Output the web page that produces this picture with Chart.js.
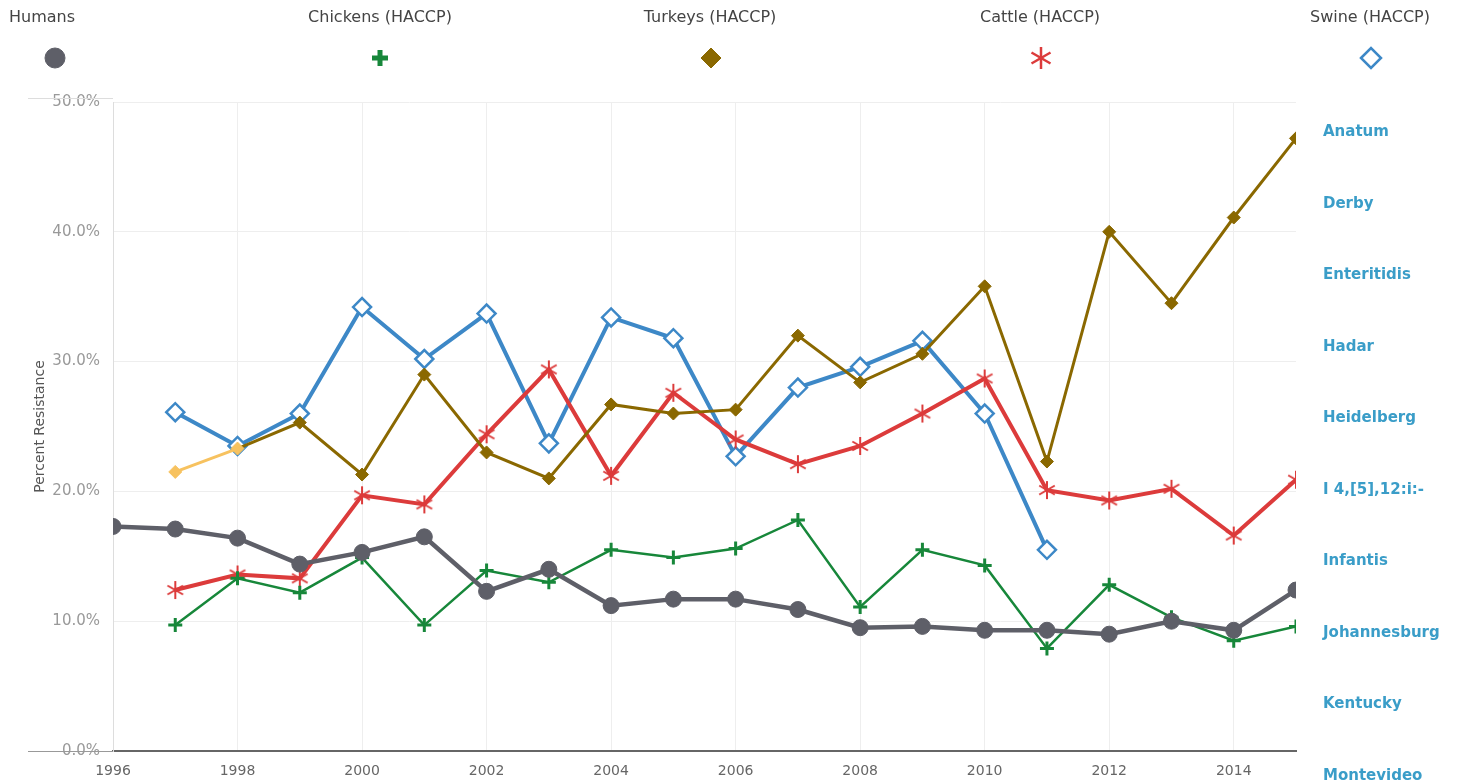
<!DOCTYPE html>
<html>
<head>
<meta charset="utf-8">
<script src="https://cdn.jsdelivr.net/npm/chart.js@4.4.1/dist/chart.umd.min.js"></script>
<style>
  html, body { margin: 0; padding: 0; background: #fff; overflow: hidden; }
  #wrap { position: relative; width: 1472px; height: 784px; }
  #serotypes { position: absolute; left: 1323px; top: 0; margin: 0; padding: 0; list-style: none;
               font: bold 15px "DejaVu Sans", sans-serif; color: #3a9dc8; }
  #serotypes li { position: absolute; left: 0; white-space: nowrap; line-height: 20px; }
</style>
</head>
<body>
<div id="wrap">
  <canvas id="chart" width="1472" height="784"></canvas>
  <ul id="serotypes"></ul>
</div>
<script>
// data
const years = [1996, 1997, 1998, 1999, 2000, 2001, 2002, 2003, 2004, 2005,
               2006, 2007, 2008, 2009, 2010, 2011, 2012, 2013, 2014, 2015];

const humans   = [17.3, 17.1, 16.4, 14.4, 15.3, 16.5, 12.3, 14.0, 11.2, 11.7,
                  11.7, 10.9, 9.5, 9.6, 9.3, 9.3, 9.0, 10.0, 9.3, 12.4];
const chickens = [null, 9.7, 13.3, 12.2, 14.9, 9.7, 13.9, 13.0, 15.5, 14.9,
                  15.6, 17.8, 11.1, 15.5, 14.3, 7.9, 12.8, 10.3, 8.5, 9.6];
const turkeys  = [null, 21.5, 23.3, 25.3, 21.3, 29.0, 23.0, 21.0, 26.7, 26.0,
                  26.3, 32.0, 28.4, 30.6, 35.8, 22.3, 40.0, 34.5, 41.1, 47.2];
const cattle   = [null, 12.4, 13.6, 13.3, 19.7, 19.0, 24.4, 29.4, 21.2, 27.6,
                  24.0, 22.1, 23.5, 26.0, 28.7, 20.1, 19.3, 20.2, 16.6, 20.9];
const swine    = [null, 26.1, 23.5, 26.0, 34.2, 30.2, 33.7, 23.7, 33.4, 31.8,
                  22.7, 28.0, 29.6, 31.6, 26.0, 15.5, null, null, null, null];

const seriesNames = ['Humans', 'Chickens (HACCP)', 'Turkeys (HACCP)', 'Cattle (HACCP)', 'Swine (HACCP)'];
const serotypes = ['Anatum', 'Derby', 'Enteritidis', 'Hadar', 'Heidelberg', 'I 4,[5],12:i:-',
                   'Infantis', 'Johannesburg', 'Kentucky', 'Montevideo'];
const yTicks = { min: 0, max: 50, step: 10 };

const C_HUM = '#5e5f68', C_CHK = '#17873a', C_TUR = '#8a6800', C_TUR_EARLY = '#f7c25f',
      C_CAT = '#dc3b3b', C_SWI = '#3d88c7';

// serotype list on the right
const list = document.getElementById('serotypes');
serotypes.forEach((s, i) => {
  const li = document.createElement('li');
  li.textContent = s;
  li.style.top = (121 + i * 71.5) + 'px';
  list.appendChild(li);
});

// six armed asterisk used for cattle
function asterisk(size, lw, color) {
  const c = document.createElement('canvas');
  c.width = c.height = size;
  const x = c.getContext('2d');
  x.strokeStyle = color;
  x.lineWidth = lw;
  const m = size / 2, r = size / 2 - 1;
  for (let k = 0; k < 3; k++) {
    const a = Math.PI / 2 + k * Math.PI / 3;
    x.beginPath();
    x.moveTo(m + r * Math.cos(a), m + r * Math.sin(a));
    x.lineTo(m - r * Math.cos(a), m - r * Math.sin(a));
    x.stroke();
  }
  return c;
}
const starSmall = asterisk(20, 2, C_CAT);
const starBig = asterisk(24, 2.5, C_CAT);

const pts = arr => years.map((x, i) => ({ x, y: arr[i] }));

const legendTextX = [42, 380, 710, 1040, 1370];
const legendMarkX = [55, 380, 711, 1041, 1371];
const legendMarks = [
  { pointStyle: 'circle', radius: 10, fill: C_HUM, stroke: C_HUM, bw: 1 },
  { pointStyle: 'cross', radius: 8, fill: C_CHK, stroke: C_CHK, bw: 5 },
  { pointStyle: 'rectRot', radius: 10, fill: C_TUR, stroke: C_TUR, bw: 1 },
  { pointStyle: starBig, radius: 12, fill: C_CAT, stroke: C_CAT, bw: 1 },
  { pointStyle: 'rectRot', radius: 10, fill: '#fff', stroke: C_SWI, bw: 2.5 }
];

const topLegend = {
  id: 'topLegend',
  afterDraw(chart) {
    const ctx = chart.ctx;
    const a = chart.chartArea;
    ctx.save();
    // axis line stubs left of the plot
    ctx.lineWidth = 1;
    ctx.strokeStyle = '#dddddd';
    ctx.beginPath(); ctx.moveTo(28, a.top - 3.5); ctx.lineTo(a.left, a.top - 3.5); ctx.stroke();
    ctx.strokeStyle = '#999999';
    ctx.beginPath(); ctx.moveTo(28, a.bottom + 0.5); ctx.lineTo(a.left, a.bottom + 0.5); ctx.stroke();

    ctx.font = '16px "DejaVu Sans", sans-serif';
    ctx.textAlign = 'center';
    ctx.textBaseline = 'middle';
    seriesNames.forEach((name, i) => {
      ctx.fillStyle = '#444';
      ctx.fillText(name, legendTextX[i], 18);
      const m = legendMarks[i];
      ctx.fillStyle = m.fill;
      ctx.strokeStyle = m.stroke;
      ctx.lineWidth = m.bw;
      Chart.helpers.drawPoint(ctx, { pointStyle: m.pointStyle, radius: m.radius, rotation: 0, borderWidth: m.bw },
                              legendMarkX[i], 58);
    });
    ctx.restore();
  }
};

new Chart(document.getElementById('chart'), {
  type: 'line',
  data: {
    datasets: [
      {
        label: seriesNames[0], data: pts(humans), clip: 0,
        borderColor: C_HUM, backgroundColor: C_HUM, borderWidth: 4.5,
        pointStyle: 'circle', pointRadius: 8, pointBorderWidth: 1, pointBackgroundColor: C_HUM
      },
      {
        label: seriesNames[1], data: pts(chickens), clip: 0,
        borderColor: C_CHK, backgroundColor: C_CHK, borderWidth: 2.5,
        pointStyle: 'cross', pointRadius: 7, pointBorderWidth: 3
      },
      {
        label: seriesNames[2], data: pts(turkeys), clip: 0,
        borderColor: C_TUR, backgroundColor: C_TUR, borderWidth: 3,
        pointStyle: 'rectRot', pointRadius: 6.5, pointBorderWidth: 1,
        pointBackgroundColor: years.map(y => y <= 1998 ? C_TUR_EARLY : C_TUR),
        pointBorderColor: years.map(y => y <= 1998 ? C_TUR_EARLY : C_TUR),
        segment: { borderColor: c => years[c.p0DataIndex] === 1997 ? C_TUR_EARLY : undefined }
      },
      {
        label: seriesNames[3], data: pts(cattle), clip: 0,
        borderColor: C_CAT, backgroundColor: C_CAT, borderWidth: 4,
        pointStyle: starSmall, pointRadius: 10
      },
      {
        label: seriesNames[4], data: pts(swine), clip: 0,
        borderColor: C_SWI, backgroundColor: '#fff', borderWidth: 4,
        pointStyle: 'rectRot', pointRadius: 9, pointBorderWidth: 2.5,
        pointBackgroundColor: '#fff', pointBorderColor: C_SWI
      }
    ]
  },
  options: {
    responsive: false,
    animation: false,
    layout: { padding: { top: 102, right: 176, bottom: 0, left: 0 } },
    plugins: { legend: { display: false }, tooltip: { enabled: false } },
    scales: {
      x: {
        type: 'linear', min: 1996, max: 2015,
        afterFit: s => { s.height = 33; },
        grid: { color: '#eeeeee', drawTicks: false },
        border: { color: '#666666', width: 2 },
        ticks: {
          stepSize: 2, includeBounds: false, padding: 12,
          color: '#666', font: { family: '"DejaVu Sans", sans-serif', size: 14 },
          callback: v => String(v)
        }
      },
      y: {
        min: yTicks.min, max: yTicks.max,
        afterFit: s => { s.width = 113; },
        grid: { color: '#eeeeee', drawTicks: false },
        border: { color: '#dddddd' },
        title: {
          display: true, text: 'Percent Resistance', color: '#555',
          font: { family: '"DejaVu Sans", sans-serif', size: 14 },
          padding: { top: 32, bottom: 0 }
        },
        ticks: {
          stepSize: yTicks.step, padding: 13,
          color: '#999', font: { family: '"DejaVu Sans", sans-serif', size: 15 },
          callback: v => v.toFixed(1) + '%'
        }
      }
    }
  },
  plugins: [topLegend]
});
</script>
</body>
</html>
